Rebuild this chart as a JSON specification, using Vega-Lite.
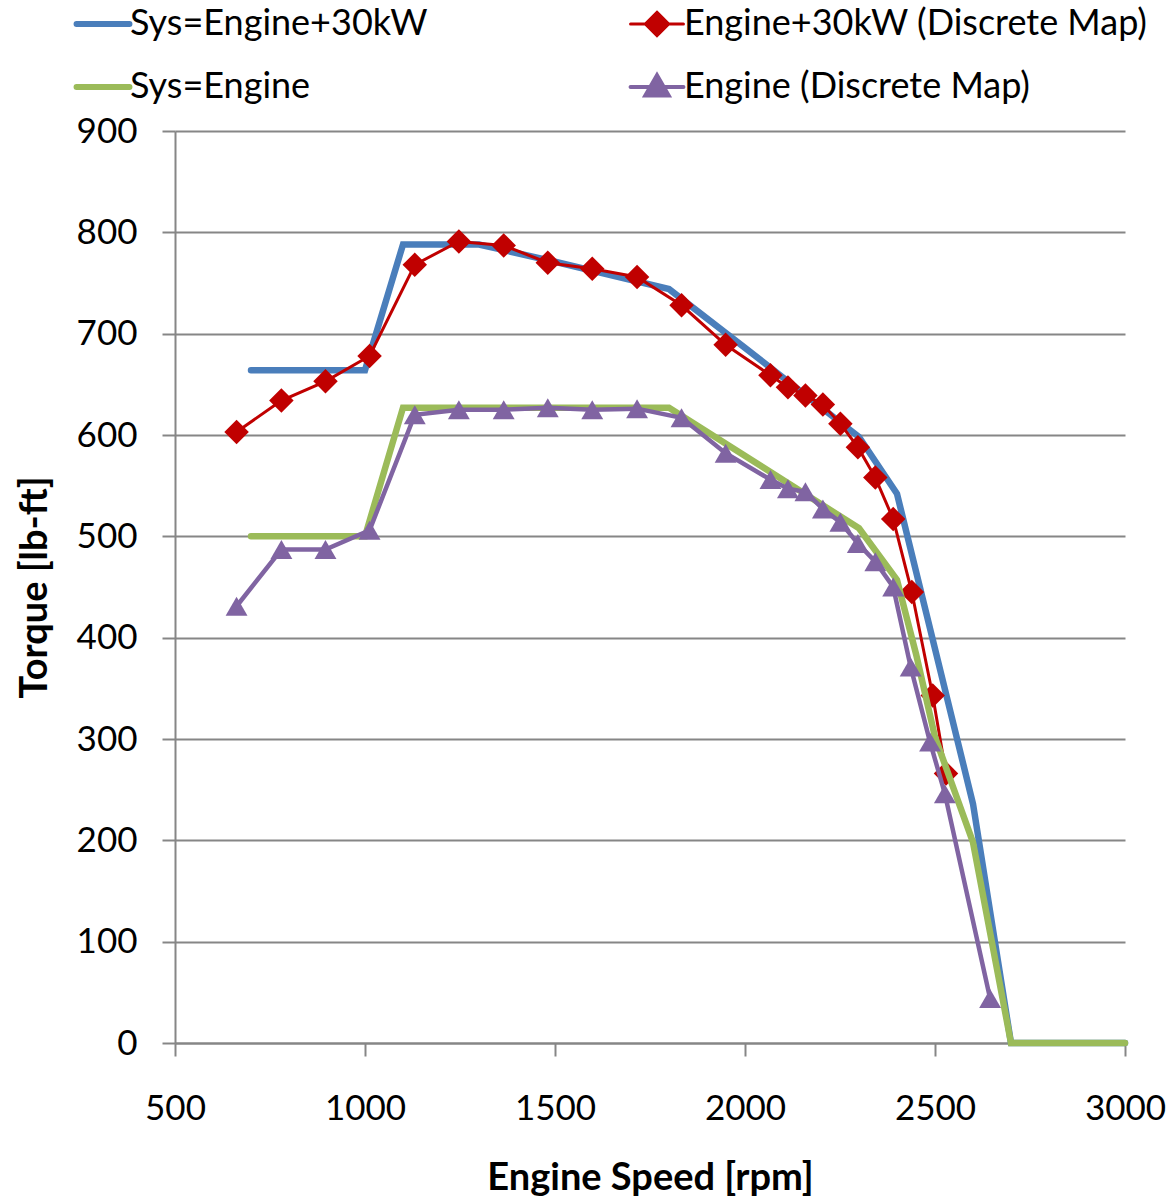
{
  "$schema": "https://vega.github.io/schema/vega-lite/v6.json",
  "autosize": "none",
  "width": 950,
  "height": 912,
  "padding": {"left": 175, "top": 131, "right": 46, "bottom": 154},
  "background": "white",
  "config": {
    "font": "Lato",
    "view": {"stroke": null},
    "axis": {
      "labelFont": "Lato", "labelFontSize": 35, "labelColor": "#000000",
      "titleFont": "Lato", "titleFontSize": 38, "titleFontWeight": "bold", "titleColor": "#000000",
      "domainColor": "#868686", "domainWidth": 2,
      "tickColor": "#868686", "tickWidth": 2, "tickSize": 13,
      "gridColor": "#868686", "gridWidth": 2,
      "labelFlush": false, "labelOverlap": false
    },
    "legend": {
      "orient": "none", "legendX": -90, "legendY": -125,
      "columns": 2, "direction": "horizontal",
      "symbolSize": 2800, "labelFont": "Lato", "labelFontSize": 36, "labelColor": "#000000",
      "labelOffset": 9, "columnPadding": 194, "rowPadding": 25, "padding": 0, "labelLimit": 700
    }
  },
  "data": {
    "values": [
      {"series": "Sys=Engine+30kW", "rpm": 700, "torque": 664},
      {"series": "Sys=Engine+30kW", "rpm": 1000, "torque": 664},
      {"series": "Sys=Engine+30kW", "rpm": 1100, "torque": 788},
      {"series": "Sys=Engine+30kW", "rpm": 1300, "torque": 788},
      {"series": "Sys=Engine+30kW", "rpm": 1500, "torque": 771},
      {"series": "Sys=Engine+30kW", "rpm": 1800, "torque": 744},
      {"series": "Sys=Engine+30kW", "rpm": 2000, "torque": 686},
      {"series": "Sys=Engine+30kW", "rpm": 2300, "torque": 598},
      {"series": "Sys=Engine+30kW", "rpm": 2400, "torque": 542},
      {"series": "Sys=Engine+30kW", "rpm": 2600, "torque": 236},
      {"series": "Sys=Engine+30kW", "rpm": 2700, "torque": 0},
      {"series": "Sys=Engine+30kW", "rpm": 3000, "torque": 0},

      {"series": "Sys=Engine", "rpm": 700, "torque": 500},
      {"series": "Sys=Engine", "rpm": 1000, "torque": 500},
      {"series": "Sys=Engine", "rpm": 1100, "torque": 627},
      {"series": "Sys=Engine", "rpm": 1800, "torque": 627},
      {"series": "Sys=Engine", "rpm": 2300, "torque": 508},
      {"series": "Sys=Engine", "rpm": 2400, "torque": 457},
      {"series": "Sys=Engine", "rpm": 2450, "torque": 384},
      {"series": "Sys=Engine", "rpm": 2500, "torque": 302},
      {"series": "Sys=Engine", "rpm": 2600, "torque": 198},
      {"series": "Sys=Engine", "rpm": 2700, "torque": 0},
      {"series": "Sys=Engine", "rpm": 3000, "torque": 0},

      {"series": "Engine+30kW (Discrete Map)", "rpm": 662, "torque": 603},
      {"series": "Engine+30kW (Discrete Map)", "rpm": 780, "torque": 634},
      {"series": "Engine+30kW (Discrete Map)", "rpm": 896, "torque": 653},
      {"series": "Engine+30kW (Discrete Map)", "rpm": 1012, "torque": 678},
      {"series": "Engine+30kW (Discrete Map)", "rpm": 1131, "torque": 768},
      {"series": "Engine+30kW (Discrete Map)", "rpm": 1247, "torque": 791},
      {"series": "Engine+30kW (Discrete Map)", "rpm": 1365, "torque": 787},
      {"series": "Engine+30kW (Discrete Map)", "rpm": 1481, "torque": 770},
      {"series": "Engine+30kW (Discrete Map)", "rpm": 1598, "torque": 764},
      {"series": "Engine+30kW (Discrete Map)", "rpm": 1716, "torque": 756},
      {"series": "Engine+30kW (Discrete Map)", "rpm": 1833, "torque": 728},
      {"series": "Engine+30kW (Discrete Map)", "rpm": 1949, "torque": 689},
      {"series": "Engine+30kW (Discrete Map)", "rpm": 2067, "torque": 659},
      {"series": "Engine+30kW (Discrete Map)", "rpm": 2113, "torque": 647},
      {"series": "Engine+30kW (Discrete Map)", "rpm": 2159, "torque": 639},
      {"series": "Engine+30kW (Discrete Map)", "rpm": 2205, "torque": 630},
      {"series": "Engine+30kW (Discrete Map)", "rpm": 2251, "torque": 611},
      {"series": "Engine+30kW (Discrete Map)", "rpm": 2297, "torque": 588},
      {"series": "Engine+30kW (Discrete Map)", "rpm": 2343, "torque": 558},
      {"series": "Engine+30kW (Discrete Map)", "rpm": 2390, "torque": 517},
      {"series": "Engine+30kW (Discrete Map)", "rpm": 2439, "torque": 445},
      {"series": "Engine+30kW (Discrete Map)", "rpm": 2494, "torque": 343},
      {"series": "Engine+30kW (Discrete Map)", "rpm": 2529, "torque": 266},

      {"series": "Engine (Discrete Map)", "rpm": 662, "torque": 431},
      {"series": "Engine (Discrete Map)", "rpm": 780, "torque": 487},
      {"series": "Engine (Discrete Map)", "rpm": 896, "torque": 487},
      {"series": "Engine (Discrete Map)", "rpm": 1012, "torque": 506},
      {"series": "Engine (Discrete Map)", "rpm": 1131, "torque": 620},
      {"series": "Engine (Discrete Map)", "rpm": 1247, "torque": 625},
      {"series": "Engine (Discrete Map)", "rpm": 1365, "torque": 625},
      {"series": "Engine (Discrete Map)", "rpm": 1481, "torque": 627},
      {"series": "Engine (Discrete Map)", "rpm": 1598, "torque": 625},
      {"series": "Engine (Discrete Map)", "rpm": 1716, "torque": 626},
      {"series": "Engine (Discrete Map)", "rpm": 1833, "torque": 617},
      {"series": "Engine (Discrete Map)", "rpm": 1949, "torque": 582},
      {"series": "Engine (Discrete Map)", "rpm": 2067, "torque": 556},
      {"series": "Engine (Discrete Map)", "rpm": 2113, "torque": 547},
      {"series": "Engine (Discrete Map)", "rpm": 2159, "torque": 544},
      {"series": "Engine (Discrete Map)", "rpm": 2205, "torque": 527},
      {"series": "Engine (Discrete Map)", "rpm": 2251, "torque": 514},
      {"series": "Engine (Discrete Map)", "rpm": 2297, "torque": 493},
      {"series": "Engine (Discrete Map)", "rpm": 2343, "torque": 475},
      {"series": "Engine (Discrete Map)", "rpm": 2390, "torque": 450},
      {"series": "Engine (Discrete Map)", "rpm": 2436, "torque": 371},
      {"series": "Engine (Discrete Map)", "rpm": 2487, "torque": 297},
      {"series": "Engine (Discrete Map)", "rpm": 2526, "torque": 246},
      {"series": "Engine (Discrete Map)", "rpm": 2645, "torque": 44}
    ]
  },
  "encoding": {
    "x": {
      "field": "rpm", "type": "quantitative",
      "scale": {"domain": [500, 3000], "nice": false, "zero": false},
      "axis": {"values": [500, 1000, 1500, 2000, 2500, 3000], "format": "d", "grid": false, "title": "Engine Speed [rpm]", "labelPadding": 35, "titlePadding": 33}
    },
    "y": {
      "field": "torque", "type": "quantitative",
      "scale": {"domain": [0, 900], "nice": false},
      "axis": {"values": [0, 100, 200, 300, 400, 500, 600, 700, 800, 900], "format": "d", "grid": true, "title": "Torque [lb-ft]", "labelPadding": 25, "titlePadding": 22}
    },
    "color": {
      "field": "series", "type": "nominal",
      "scale": {
        "domain": ["Sys=Engine+30kW", "Engine+30kW (Discrete Map)", "Sys=Engine", "Engine (Discrete Map)"],
        "range": ["#4A7EBB", "#C00000", "#9BBB59", "#8064A2"]
      },
      "legend": {
        "title": null,
        "encode": {
          "symbols": {
            "update": {
              "shape": {"signal": "datum.value === 'Engine+30kW (Discrete Map)' ? 'M-1,0H1M0,-0.44L0.44,0L0,0.44L-0.44,0Z' : datum.value === 'Engine (Discrete Map)' ? 'M-1,0H1M0,-0.44L0.44,0.32L-0.44,0.32Z' : 'M-1,0H1'"},
              "strokeWidth": {"signal": "datum.value === 'Engine+30kW (Discrete Map)' ? 3 : datum.value === 'Engine (Discrete Map)' ? 4 : 6"},
              "stroke": {"signal": "scale('color', datum.value)"},
              "fill": {"signal": "scale('color', datum.value)"},
              "strokeCap": {"value": "round"},
              "opacity": {"value": 1},
              "fillOpacity": {"value": 1},
              "strokeOpacity": {"value": 1}
            }
          }
        }
      }
    }
  },
  "layer": [
    {
      "transform": [{"filter": "datum.series === 'Sys=Engine+30kW'"}],
      "mark": {"type": "line", "strokeWidth": 6.5, "strokeJoin": "miter", "strokeCap": "round"}
    },
    {
      "transform": [{"filter": "datum.series === 'Engine+30kW (Discrete Map)'"}],
      "mark": {"type": "line", "strokeWidth": 3}
    },
    {
      "transform": [{"filter": "datum.series === 'Engine+30kW (Discrete Map)'"}],
      "mark": {"type": "point", "shape": "diamond", "size": 600, "filled": true, "opacity": 1}
    },
    {
      "transform": [{"filter": "datum.series === 'Sys=Engine'"}],
      "mark": {"type": "line", "strokeWidth": 6.5, "strokeJoin": "miter", "strokeCap": "round"}
    },
    {
      "transform": [{"filter": "datum.series === 'Engine (Discrete Map)'"}],
      "mark": {"type": "line", "strokeWidth": 4.5}
    },
    {
      "transform": [{"filter": "datum.series === 'Engine (Discrete Map)'"}],
      "mark": {"type": "point", "shape": "triangle-up", "size": 480, "filled": true, "opacity": 1}
    }
  ]
}
